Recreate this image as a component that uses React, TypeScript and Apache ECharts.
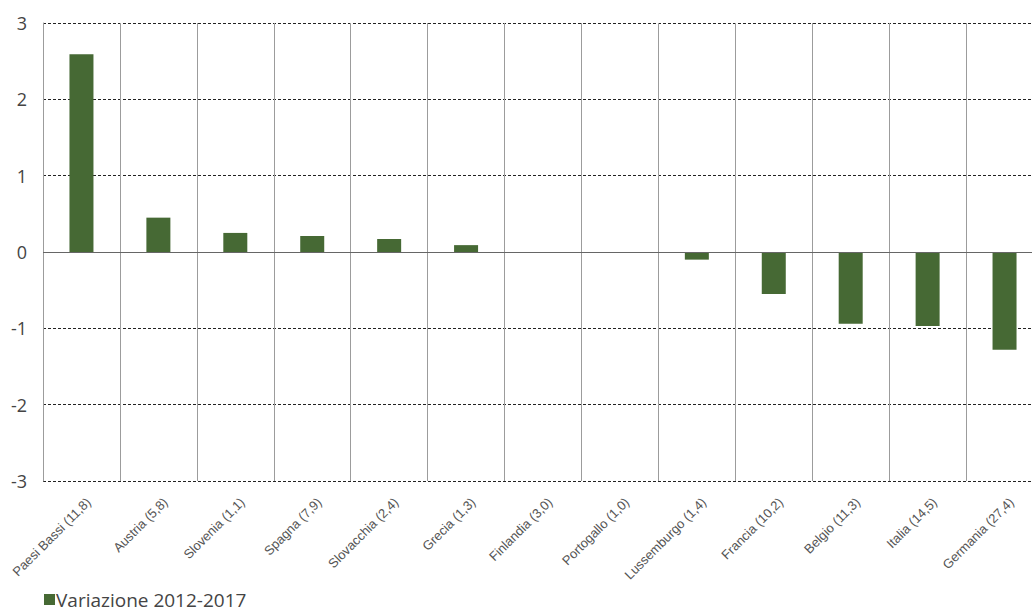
import React, { useEffect, useRef } from "react";
import * as echarts from "echarts";

const categories = [
  "Paesi Bassi (11,8)",
  "Austria (5,8)",
  "Slovenia (1,1)",
  "Spagna (7,9)",
  "Slovacchia (2,4)",
  "Grecia (1,3)",
  "Finlandia (3,0)",
  "Portogallo (1,0)",
  "Lussemburgo (1,4)",
  "Francia (10,2)",
  "Belgio (11,3)",
  "Italia (14,5)",
  "Germania (27,4)",
];
const variazione = [2.59, 0.45, 0.25, 0.21, 0.17, 0.09, 0, 0, -0.1, -0.55, -0.94, -0.97, -1.28];
const seriesName = "Variazione 2012-2017";

export default function App() {
  const ref = useRef<HTMLDivElement>(null);
  useEffect(() => {
    document.body.style.margin = "0";
    const chart = echarts.init(ref.current!, null, { renderer: "svg" });
    chart.setOption({
      animation: false,
      backgroundColor: "#ffffff",
      grid: { left: 43, top: 23, width: 1000, height: 458, containLabel: false, outerBoundsMode: "none" },
      legend: {
        show: true,
        left: 44,
        top: 590,
        padding: 0,
        itemWidth: 11,
        itemHeight: 11,
        itemGap: 0,
        icon: "rect",
        textStyle: {
          fontFamily: "Open Sans",
          fontSize: 19,
          lineHeight: 16,
          color: "#444",
          padding: [0, 0, 0, -4],
        },
        data: [seriesName],
      },
      xAxis: {
        type: "category",
        data: categories,
        boundaryGap: true,
        axisLine: { show: false },
        axisTick: { show: false },
        splitLine: { show: true, interval: 0, lineStyle: { color: "#9c9c9c", width: 1 } },
        axisLabel: {
          interval: 0,
          rotate: 45,
          fontFamily: "Liberation Sans",
          fontSize: 13,
          color: "#555",
          margin: 26,
          padding: [44, -10, 0, 0],
        },
      },
      yAxis: {
        type: "value",
        min: -3,
        max: 3,
        interval: 1,
        axisLine: { show: true, lineStyle: { color: "#9c9c9c" } },
        axisTick: { show: false },
        axisLabel: { fontFamily: "Open Sans", fontSize: 18, color: "#444", margin: 16 },
        splitLine: { show: true, lineStyle: { color: "#222", type: [3, 2], width: 1 } },
      },
      series: [
        {
          name: seriesName,
          type: "bar",
          data: variazione,
          barWidth: 24,
          itemStyle: { color: "#466934" },
          markLine: {
            silent: true,
            symbol: "none",
            label: { show: false },
            lineStyle: { color: "#666", type: "solid", width: 1 },
            data: [{ yAxis: 0 }],
          },
        },
      ],
    });
    return () => chart.dispose();
  }, []);
  return <div ref={ref} style={{ width: 1032, height: 614 }} />;
}
